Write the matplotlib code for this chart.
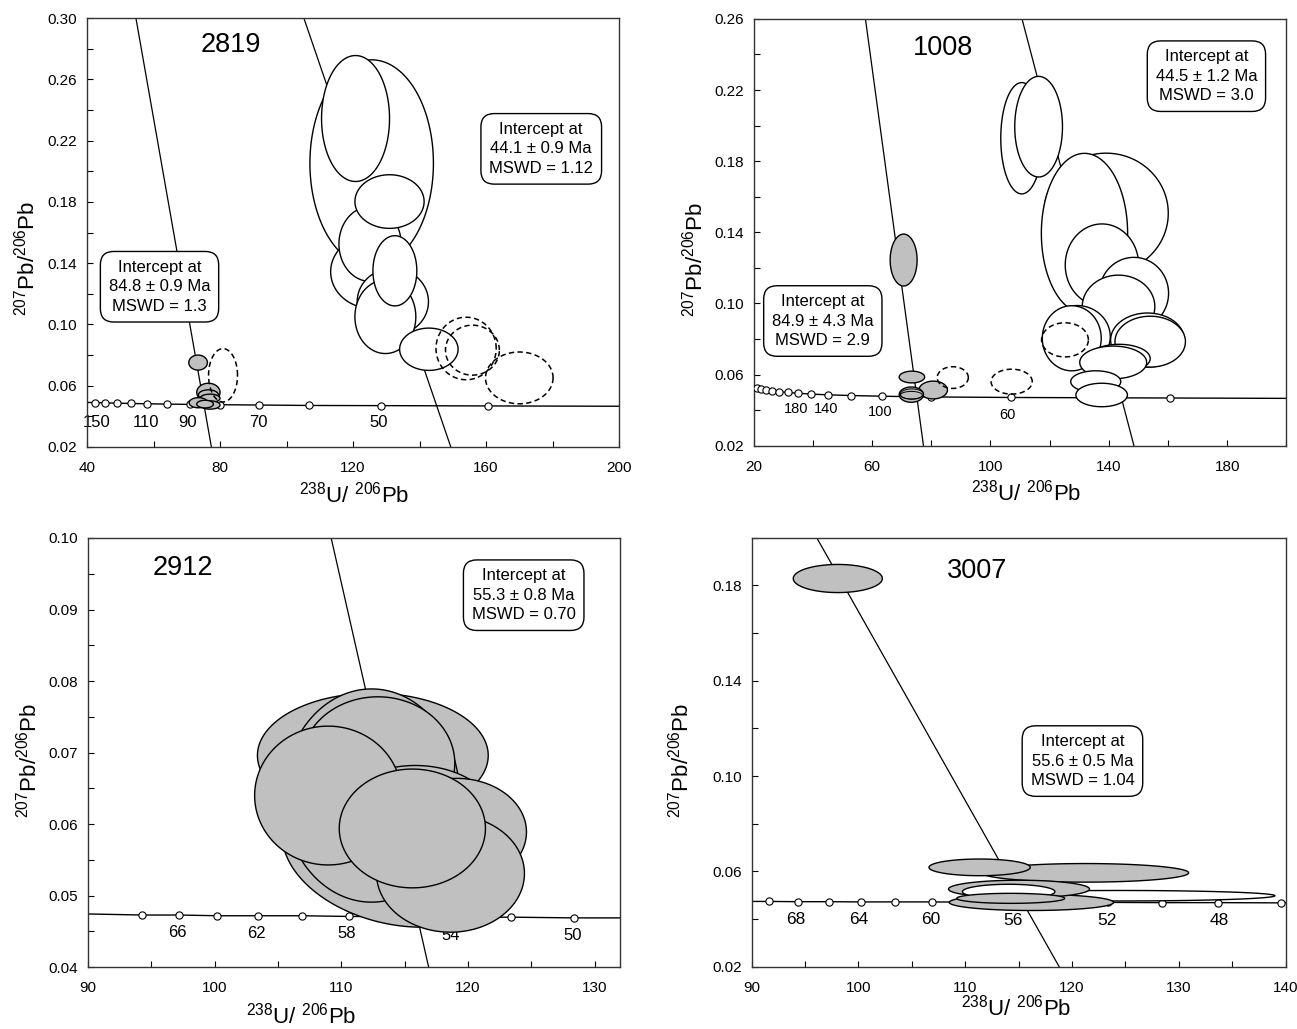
import numpy as np
import matplotlib
matplotlib.use('Agg')
import matplotlib.pyplot as plt
from matplotlib.ticker import MultipleLocator, FixedLocator, FormatStrFormatter

plt.rcParams['font.family'] = ['Liberation Sans', 'DejaVu Sans']
plt.rcParams['mathtext.fontset'] = 'custom'
plt.rcParams['mathtext.rm'] = 'Liberation Sans'
plt.rcParams['mathtext.it'] = 'Liberation Sans:italic'
plt.rcParams['mathtext.bf'] = 'Liberation Sans:bold'

# ---------------- DATA ----------------
# Panel 1 : sample 2819
p1_line_x = [40.0, 200.0]
p1_line_y = [0.0491, 0.0466]
p1_marker_x = [42.5, 45.5, 49.1, 53.2, 58.1, 64.0, 71.1, 80.1, 91.6, 106.9, 128.4, 160.6]
p1_marker_y = [0.0490, 0.0488, 0.0486, 0.0484, 0.0482, 0.0480, 0.0478, 0.0476, 0.0474, 0.0471, 0.0470, 0.0468]
p1_age_labels = ['150', '110', '90', '70', '50']
p1_age_x = [42.9, 57.8, 70.3, 91.5, 127.6]
p1_age_y = [0.0362, 0.0362, 0.0362, 0.0362, 0.0362]
p1_discordia = [([54.7, 77.4], [0.30, 0.02]), ([105.2, 149.4], [0.30, 0.02])]
# (centre x, centre y, half-width, half-height, correlation, kind)  kind: w=open, g=grey, d=dashed
p1_ellipses = [
    (125.6, 0.2052, 18.57, 0.0675, 0.0, 'w'),
    (120.75, 0.2344, 10.22, 0.0411, 0.0, 'w'),
    (125.73, 0.1344, 12.46, 0.0240, 0.0, 'w'),
    (125.11, 0.1525, 9.35, 0.0244, 0.0, 'w'),
    (131.96, 0.1148, 10.72, 0.0218, 0.0, 'w'),
    (129.72, 0.1050, 9.16, 0.0240, 0.0, 'w'),
    (130.97, 0.1802, 10.40, 0.0175, 0.0, 'w'),
    (132.58, 0.1350, 6.60, 0.0229, 0.0, 'w'),
    (142.80, 0.0838, 8.79, 0.0138, 0.0, 'w'),
    (73.4, 0.0751, 2.8, 0.0049, 0.0, 'g'),
    (76.5, 0.0556, 3.5, 0.0060, 0.0, 'g'),
    (76.5, 0.0540, 3.0, 0.0033, 0.0, 'g'),
    (77.0, 0.0518, 3.0, 0.0027, 0.0, 'g'),
    (73.5, 0.0489, 2.8, 0.0033, 0.0, 'g'),
    (77.0, 0.0474, 3.0, 0.0027, 0.0, 'g'),
    (75.5, 0.0480, 2.5, 0.0025, 0.0, 'g'),
    (154.0, 0.0843, 9.05, 0.0204, 0.0, 'd'),
    (155.9, 0.0832, 8.1, 0.0163, 0.0, 'd'),
    (170.0, 0.0651, 10.15, 0.0169, 0.0, 'd'),
    (80.9, 0.0668, 4.35, 0.0174, 0.0, 'd'),
]
p1_name = ('2819', 83.1, 0.2776)
p1_boxes = [('Intercept at\n44.1 ± 0.9 Ma\nMSWD = 1.12', 176.6, 0.2146),
            ('Intercept at\n84.8 ± 0.9 Ma\nMSWD = 1.3', 61.8, 0.1246)]

# Panel 2 : sample 1008
p2_line_x = [20.0, 200.0]
p2_line_y = [0.0526, 0.0466]
p2_marker_x = [21.0, 22.5, 24.2, 26.2, 28.6, 31.5, 35.0, 39.4, 45.0, 52.9, 63.5, 80.1, 106.9, 160.6]
p2_marker_y = [0.0523, 0.0518, 0.0513, 0.0508, 0.0503, 0.0499, 0.0495, 0.0490, 0.0486, 0.0482, 0.0478, 0.0474, 0.0471, 0.0468]
p2_age_labels = ['180', '140', '100', '60']
p2_age_x = [34.3, 44.4, 62.8, 105.8]
p2_age_y = [0.0405, 0.0405, 0.0388, 0.0375]
p2_discordia = [([57.8, 77.4], [0.26, 0.02]), ([110.7, 148.5], [0.26, 0.02])]
p2_ellipses = [
    (139.1, 0.1507, 21.0, 0.0338, 0.0, 'w'),
    (131.8, 0.1394, 14.57, 0.0450, 0.0, 'w'),
    (110.6, 0.1929, 7.08, 0.0313, 0.0, 'w'),
    (116.3, 0.1994, 8.06, 0.0283, 0.0, 'w'),
    (137.7, 0.1216, 12.4, 0.0231, 0.0, 'w'),
    (148.5, 0.1057, 11.7, 0.0202, 0.0, 'w'),
    (143.3, 0.0982, 12.26, 0.0177, 0.0, 'w'),
    (153.1, 0.0794, 12.47, 0.0152, 0.0, 'w'),
    (154.0, 0.0785, 11.9, 0.0143, 0.0, 'w'),
    (129.3, 0.0813, 11.2, 0.0175, 0.0, 'w'),
    (127.5, 0.0804, 9.95, 0.0183, 0.0, 'w'),
    (143.5, 0.0690, 10.5, 0.0080, 0.0, 'w'),
    (141.5, 0.0668, 11.3, 0.0092, 0.0, 'w'),
    (135.6, 0.0560, 8.45, 0.0061, 0.0, 'w'),
    (137.6, 0.0485, 8.7, 0.0066, 0.0, 'w'),
    (70.7, 0.1244, 4.55, 0.0146, 0.0, 'g'),
    (73.5, 0.0586, 4.3, 0.0033, 0.0, 'g'),
    (80.7, 0.0513, 4.8, 0.0050, 0.0, 'g'),
    (73.3, 0.0487, 4.1, 0.0043, 0.0, 'g'),
    (73.5, 0.0490, 3.9, 0.0029, 0.0, 'o'),
    (73.3, 0.0484, 3.7, 0.0021, 0.0, 'o'),
    (87.3, 0.0583, 5.25, 0.0061, 0.0, 'd'),
    (107.2, 0.0560, 6.95, 0.0070, 0.0, 'd'),
    (125.2, 0.0795, 7.9, 0.0096, 0.0, 'd'),
]
p2_name = ('1008', 83.9, 0.2398)
p2_boxes = [('Intercept at\n44.5 ± 1.2 Ma\nMSWD = 3.0', 173.0, 0.2278),
            ('Intercept at\n84.9 ± 4.3 Ma\nMSWD = 2.9', 43.4, 0.0901)]

# Panel 3 : sample 2912
p3_line_x = [90.0, 132.0]
p3_line_y = [0.04745, 0.0469]
p3_marker_x = [94.3, 97.2, 100.2, 103.4, 106.9, 110.6, 114.5, 118.8, 123.4, 128.4]
p3_marker_y = [0.0473, 0.0473, 0.0472, 0.0472, 0.0472, 0.0471, 0.0471, 0.0470, 0.0470, 0.0469]
p3_age_labels = ['66', '62', '58', '54', '50']
p3_age_x = [97.05, 103.3, 110.4, 118.6, 128.3]
p3_age_y = [0.0448, 0.0447, 0.0447, 0.0444, 0.0444]
p3_discordia = [([109.2, 116.9], [0.10, 0.04])]
p3_ellipses = [
    (114.52, 0.0563, 9.18, 0.0107, -0.2, 'g'),
    (112.49, 0.0696, 9.11, 0.0087, 0.0, 'g'),
    (112.39, 0.0640, 6.95, 0.0149, 0.0, 'g'),
    (112.89, 0.0685, 6.07, 0.0093, 0.0, 'g'),
    (115.84, 0.0605, 6.46, 0.0077, 0.0, 'g'),
    (119.11, 0.0589, 5.51, 0.0075, 0.0, 'g'),
    (108.96, 0.0640, 5.80, 0.0097, 0.0, 'g'),
    (118.62, 0.0531, 5.84, 0.0082, 0.0, 'g'),
    (115.61, 0.0594, 5.77, 0.0083, 0.0, 'g'),
]
p3_name = ('2912', 97.5, 0.0948)
p3_boxes = [('Intercept at\n55.3 ± 0.8 Ma\nMSWD = 0.70', 124.4, 0.0920)]

# Panel 4 : sample 3007
p4_line_x = [90.0, 140.0]
p4_line_y = [0.0474, 0.0468]
p4_marker_x = [91.6, 94.3, 97.2, 100.2, 103.4, 106.9, 110.6, 114.5, 118.8, 123.4, 128.4, 133.7, 139.6]
p4_marker_y = [0.0474, 0.0473, 0.0473, 0.0472, 0.0472, 0.0472, 0.0471, 0.0471, 0.0470, 0.0470, 0.0469, 0.0469, 0.0468]
p4_age_labels = ['68', '64', '60', '56', '52', '48']
p4_age_x = [94.15, 100.0, 106.8, 114.5, 123.3, 133.75]
p4_age_y = [0.0399, 0.0399, 0.0399, 0.0396, 0.0393, 0.0393]
p4_discordia = [([96.1, 118.8], [0.20, 0.02])]
p4_ellipses = [
    (98.07, 0.1829, 4.17, 0.0059, 0.0, 'g'),
    (121.25, 0.0594, 9.67, 0.0039, 0.0, 'g'),
    (111.35, 0.0617, 4.74, 0.0035, 0.0, 'g'),
    (124.5, 0.0498, 14.5, 0.0022, 0.0, 'w'),
    (116.2, 0.0470, 7.69, 0.0034, 0.0, 'g'),
    (115.04, 0.0526, 6.6, 0.0037, 0.0, 'g'),
    (114.07, 0.0515, 4.33, 0.0031, 0.0, 'w'),
    (114.26, 0.0487, 5.05, 0.0021, 0.0, 'g'),
]
p4_name = ('3007', 111.08, 0.1832)
p4_boxes = [('Intercept at\n55.6 ± 0.5 Ma\nMSWD = 1.04', 120.98, 0.1063)]

# axis settings
p1_axis = dict(xlim=(40, 200), ylim=(0.02, 0.30), xmaj=[40, 80, 120, 160, 200], xmin=20,
               ymaj=[0.02, 0.06, 0.10, 0.14, 0.18, 0.22, 0.26, 0.30], ymin=0.02)
p2_axis = dict(xlim=(20, 200), ylim=(0.02, 0.26), xmaj=[20, 60, 100, 140, 180], xmin=20,
               ymaj=[0.02, 0.06, 0.10, 0.14, 0.18, 0.22, 0.26], ymin=0.02)
p3_axis = dict(xlim=(90, 132), ylim=(0.04, 0.10), xmaj=[90, 100, 110, 120, 130], xmin=5,
               ymaj=[0.04, 0.05, 0.06, 0.07, 0.08, 0.09, 0.10], ymin=0.005)
p4_axis = dict(xlim=(90, 140), ylim=(0.02, 0.20), xmaj=[90, 100, 110, 120, 130, 140], xmin=5,
               ymaj=[0.02, 0.06, 0.10, 0.14, 0.18], ymin=0.02)

# ---------------- PLOT ----------------
fig = plt.figure(figsize=(12.97, 10.29), dpi=100)

rects = [
    [0.0671, 0.5656, 0.4102, 0.4169],
    [0.5810, 0.5669, 0.4108, 0.4147],
    [0.0678, 0.0600, 0.4102, 0.4172],
    [0.5795, 0.0605, 0.4117, 0.4169],
]
xlabel_coords = [(0.503, -0.081), (0.511, -0.080), (0.401, -0.082), (0.495, -0.066)]
ylabel_coords = [(-0.0895, 0.44), (-0.0856, 0.4375), (-0.087, 0.481), (-0.109, 0.48)]
age_fs = [12, 10.5, 12, 12.5]

panels = [
    (p1_line_x, p1_line_y, p1_marker_x, p1_marker_y, p1_age_labels, p1_age_x, p1_age_y,
     p1_discordia, p1_ellipses, p1_name, p1_boxes, p1_axis),
    (p2_line_x, p2_line_y, p2_marker_x, p2_marker_y, p2_age_labels, p2_age_x, p2_age_y,
     p2_discordia, p2_ellipses, p2_name, p2_boxes, p2_axis),
    (p3_line_x, p3_line_y, p3_marker_x, p3_marker_y, p3_age_labels, p3_age_x, p3_age_y,
     p3_discordia, p3_ellipses, p3_name, p3_boxes, p3_axis),
    (p4_line_x, p4_line_y, p4_marker_x, p4_marker_y, p4_age_labels, p4_age_x, p4_age_y,
     p4_discordia, p4_ellipses, p4_name, p4_boxes, p4_axis),
]


def ellipse_xy(cx, cy, hx, hy, rho, n=240):
    t = np.linspace(0, 2 * np.pi, n)
    x = cx + hx * np.cos(t)
    y = cy + hy * (rho * np.cos(t) + np.sqrt(1 - rho ** 2) * np.sin(t))
    return x, y


GREY = '#c0c0c0'

for i, (lx, ly, mx, my, albl, ax_, ay_, disc, ells, name, boxes, axs) in enumerate(panels):
    ax = fig.add_axes(rects[i])
    # concordia (line through edge values and marker points)
    cx = [lx[0]] + mx + [lx[1]]
    cy = [ly[0]] + my + [ly[1]]
    ax.plot(cx, cy, color='black', lw=1.0, zorder=2)
    ax.plot(mx, my, 'o', ms=5.2, mfc='white', mec='black', mew=0.8, zorder=3)
    for t, x, y in zip(albl, ax_, ay_):
        ax.text(x, y, t, ha='center', va='center', fontsize=age_fs[i], zorder=2.5)
    for dx, dy in disc:
        ax.plot(dx, dy, color='black', lw=0.9, zorder=2)
    z = 4
    for (ex, ey, hx, hy, rho, kind) in ells:
        xs, ys = ellipse_xy(ex, ey, hx, hy, rho)
        if kind == 'g':
            ax.fill(xs, ys, fc=GREY, ec='black', lw=1.0, zorder=z)
        elif kind == 'w':
            ax.fill(xs, ys, fc='white', ec='black', lw=1.0, zorder=z)
        elif kind == 'o':
            ax.fill(xs, ys, fc='none', ec='black', lw=0.7, zorder=z)
        else:
            ax.fill(xs, ys, fc='none', ec='black', lw=1.1, ls=(0, (3.5, 2.2)), zorder=z + 50)
        z += 0.1
    ax.text(name[1], name[2], name[0], ha='center', va='baseline', fontsize=19.5, zorder=20)
    for txt, bx, by in boxes:
        ax.text(bx, by, txt, ha='center', va='center', fontsize=12, linespacing=1.37, zorder=30,
                bbox=dict(boxstyle='round,pad=0.5,rounding_size=0.8', fc='white', ec='black', lw=1.0))
    ax.set_xlim(*axs['xlim'])
    ax.set_ylim(*axs['ylim'])
    ax.xaxis.set_major_locator(FixedLocator(axs['xmaj']))
    ax.xaxis.set_minor_locator(MultipleLocator(axs['xmin']))
    ax.yaxis.set_major_locator(FixedLocator(axs['ymaj']))
    ax.yaxis.set_minor_locator(MultipleLocator(axs['ymin']))
    ax.yaxis.set_major_formatter(FormatStrFormatter('%.2f'))
    ax.xaxis.set_major_formatter(FormatStrFormatter('%d'))
    ax.tick_params(which='both', direction='in', length=4.5, width=0.8, top=False, right=False)
    ax.tick_params(axis='x', which='major', labelsize=11, pad=10)
    ax.tick_params(axis='y', which='major', labelsize=11, pad=7)
    for sp in ax.spines.values():
        sp.set_linewidth(1.0)
        sp.set_color('#333333')
    ax.set_xlabel(r'$^{238}$U/ $^{206}$Pb', fontsize=16)
    ax.set_ylabel(r'$^{207}$Pb/$^{206}$Pb', fontsize=16)
    ax.xaxis.set_label_coords(*xlabel_coords[i])
    ax.yaxis.set_label_coords(*ylabel_coords[i])

fig.savefig('out.png', dpi=100)
